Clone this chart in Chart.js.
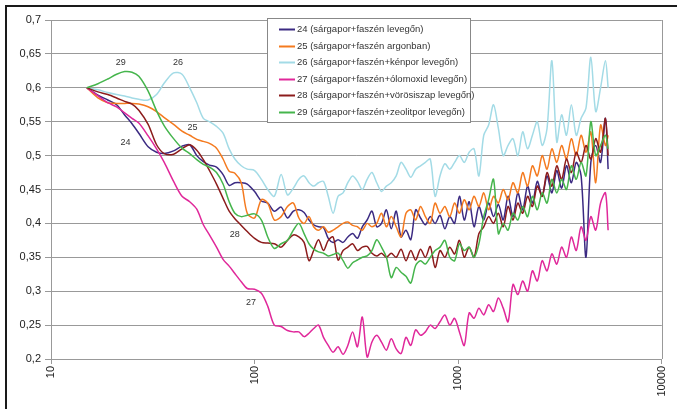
<!DOCTYPE html>
<html>
<head>
<meta charset="utf-8">
<script src="https://cdn.jsdelivr.net/npm/chart.js@4.4.1/dist/chart.umd.min.js"></script>
<style>
  html, body { margin: 0; padding: 0; background: #fff; }
  #chart { display: block; }
</style>
</head>
<body>
<canvas id="chart" width="677" height="409"></canvas>
<script>
// time (log x axis)
const times = [15, 17, 19, 21, 23, 25, 27, 30, 33, 36, 40, 44, 48, 52, 56, 60, 65, 70, 75, 80,
  86, 92, 100, 108, 116, 125, 135, 145, 155, 165, 175, 185, 195, 206, 218, 230, 243, 257, 272, 287,
  303, 320, 338, 357, 377, 398, 420, 444, 469, 496, 524, 554, 585, 618, 653, 690, 729, 770, 814, 860,
  909, 960, 1014, 1071, 1132, 1196, 1264, 1335, 1411, 1491, 1575, 1664, 1758, 1858, 1963, 2074, 2191, 2315, 2446, 2585,
  2731, 2885, 3049, 3221, 3403, 3596, 3800, 4015, 4242, 4482, 4736, 5004, 5287, 5450];

const s24 = [0.6, 0.589, 0.582, 0.575, 0.56, 0.547, 0.533, 0.513, 0.505, 0.503, 0.507, 0.514, 0.516, 0.5, 0.491, 0.486, 0.483, 0.472, 0.456, 0.46,
  0.46, 0.458, 0.447, 0.433, 0.43, 0.418, 0.424, 0.408, 0.418, 0.42, 0.416, 0.405, 0.398, 0.395, 0.394, 0.378, 0.372, 0.376, 0.372, 0.38,
  0.385, 0.378, 0.395, 0.405, 0.418, 0.395, 0.4, 0.42, 0.392, 0.418, 0.38, 0.39, 0.376, 0.42, 0.408, 0.398, 0.41, 0.4, 0.412, 0.392,
  0.41, 0.4, 0.44, 0.405, 0.432, 0.395, 0.425, 0.405, 0.43, 0.41, 0.428, 0.405, 0.44, 0.41, 0.445, 0.42, 0.455, 0.43, 0.462, 0.44,
  0.47, 0.445, 0.478, 0.452, 0.485, 0.46, 0.49, 0.47, 0.35, 0.49, 0.515, 0.49, 0.555, 0.48];

const s25 = [0.6, 0.585, 0.578, 0.577, 0.577, 0.577, 0.576, 0.572, 0.565, 0.556, 0.546, 0.536, 0.53, 0.524, 0.521, 0.518, 0.511, 0.495, 0.477, 0.474,
  0.46, 0.415, 0.408, 0.435, 0.43, 0.405, 0.41, 0.425, 0.43, 0.408, 0.4, 0.41, 0.395, 0.39, 0.395, 0.387, 0.39, 0.395, 0.4, 0.402,
  0.397, 0.395, 0.39, 0.4, 0.395, 0.4, 0.415, 0.395, 0.41, 0.395, 0.38, 0.415, 0.42, 0.405, 0.425, 0.41, 0.4, 0.43, 0.415, 0.425,
  0.41, 0.43, 0.415, 0.435, 0.42, 0.44, 0.425, 0.445, 0.42, 0.44, 0.43, 0.45, 0.435, 0.46, 0.445, 0.475, 0.455, 0.485, 0.47, 0.5,
  0.48, 0.51, 0.49, 0.515, 0.495, 0.525, 0.5, 0.53, 0.505, 0.535, 0.46, 0.545, 0.515, 0.53];

const s26 = [0.6, 0.597, 0.593, 0.59, 0.588, 0.585, 0.583, 0.582, 0.59, 0.607, 0.622, 0.62, 0.6, 0.578, 0.555, 0.55, 0.543, 0.533, 0.51, 0.495,
  0.485, 0.48, 0.478, 0.465, 0.45, 0.44, 0.472, 0.442, 0.452, 0.465, 0.47, 0.46, 0.455, 0.46, 0.462, 0.44, 0.415, 0.44, 0.445, 0.46,
  0.47, 0.462, 0.45, 0.465, 0.475, 0.46, 0.447, 0.455, 0.46, 0.47, 0.49, 0.48, 0.468, 0.48, 0.485, 0.49, 0.495, 0.44, 0.47, 0.488,
  0.48, 0.49, 0.5, 0.49, 0.505, 0.51, 0.47, 0.53, 0.545, 0.575, 0.54, 0.5, 0.515, 0.525, 0.5, 0.535, 0.51, 0.53, 0.55, 0.515,
  0.54, 0.64, 0.52, 0.56, 0.53, 0.575, 0.53, 0.555, 0.57, 0.645, 0.565, 0.6, 0.64, 0.6];

const s27 = [0.6, 0.588, 0.578, 0.572, 0.563, 0.555, 0.548, 0.529, 0.51, 0.49, 0.462, 0.44, 0.432, 0.421, 0.398, 0.383, 0.365, 0.347, 0.337, 0.326,
  0.314, 0.304, 0.303, 0.297, 0.278, 0.25, 0.248, 0.242, 0.24, 0.24, 0.233, 0.238, 0.245, 0.25, 0.232, 0.22, 0.21, 0.218, 0.207, 0.22,
  0.24, 0.218, 0.262, 0.203, 0.225, 0.235, 0.225, 0.213, 0.23, 0.215, 0.208, 0.232, 0.22, 0.243, 0.235, 0.24, 0.25, 0.245, 0.255, 0.265,
  0.25, 0.26, 0.24, 0.22, 0.268, 0.26, 0.275, 0.265, 0.28, 0.27, 0.29, 0.275, 0.255, 0.31, 0.295, 0.315, 0.3, 0.33, 0.315, 0.345,
  0.33, 0.355, 0.34, 0.365, 0.35, 0.38, 0.36, 0.395, 0.375, 0.41, 0.39, 0.43, 0.445, 0.39];

const s28 = [0.6, 0.594, 0.59, 0.585, 0.58, 0.576, 0.567, 0.546, 0.516, 0.503, 0.502, 0.51, 0.516, 0.508, 0.494, 0.478, 0.458, 0.437, 0.418, 0.407,
  0.397, 0.388, 0.378, 0.372, 0.371, 0.37, 0.365, 0.375, 0.383, 0.38, 0.372, 0.345, 0.36, 0.376, 0.36, 0.375, 0.38, 0.346, 0.36, 0.365,
  0.37, 0.36, 0.365, 0.366, 0.356, 0.352, 0.356, 0.35, 0.356, 0.35, 0.362, 0.345, 0.36, 0.346, 0.362, 0.35, 0.366, 0.335, 0.36, 0.35,
  0.365, 0.355, 0.375, 0.35, 0.365, 0.35, 0.385, 0.395, 0.41, 0.4, 0.415, 0.395, 0.425, 0.405, 0.43, 0.415, 0.44, 0.425, 0.455, 0.44,
  0.475, 0.455, 0.485, 0.465, 0.495, 0.475, 0.505, 0.49, 0.515, 0.495, 0.525, 0.505, 0.555, 0.5];

const s29 = [0.6, 0.606, 0.613, 0.62, 0.624, 0.623, 0.617, 0.595, 0.566, 0.544, 0.525, 0.511, 0.503, 0.494, 0.487, 0.483, 0.475, 0.458, 0.432, 0.415,
  0.41, 0.412, 0.414, 0.405, 0.38, 0.363, 0.37, 0.375, 0.39, 0.4, 0.385, 0.37, 0.362, 0.358, 0.356, 0.352, 0.354, 0.356, 0.345, 0.334,
  0.342, 0.346, 0.35, 0.352, 0.36, 0.376, 0.365, 0.35, 0.32, 0.335, 0.328, 0.322, 0.312, 0.338, 0.345, 0.34, 0.35, 0.36, 0.365, 0.375,
  0.35, 0.345, 0.37, 0.36, 0.365, 0.35, 0.37, 0.41, 0.435, 0.465, 0.385, 0.4, 0.39, 0.415, 0.405, 0.425, 0.41, 0.44, 0.42, 0.445,
  0.43, 0.465, 0.445, 0.465, 0.45, 0.485, 0.465, 0.49, 0.47, 0.55, 0.5, 0.515, 0.53, 0.51];

const seriesNames = [
  '24 (sárgapor+faszén levegőn)',
  '25 (sárgapor+faszén argonban)',
  '26 (sárgapor+faszén+kénpor levegőn)',
  '27 (sárgapor+faszén+ólomoxid levegőn)',
  '28 (sárgapor+faszén+vörösiszap levegőn)',
  '29 (sárgapor+faszén+zeolitpor levegőn)'
];
const seriesValues = [s24, s25, s26, s27, s28, s29];

// curve tags written inside the plot
const tagTexts = ['29', '26', '25', '24', '28', '27'];
const tagTimes = [22, 42, 49.5, 23.2, 80, 96];
const tagValues = [0.638, 0.638, 0.541, 0.519, 0.383, 0.284];

const xTickValues = [10, 100, 1000, 10000];
const yMin = 0.2, yMax = 0.7, yStep = 0.05;

const lineColors = ['#3b2a82', '#f47a1f', '#a3dbe6', '#e0289a', '#8c1c1c', '#45b54c'];
const FONT = '"Liberation Sans", Arial, sans-serif';

document.addEventListener('DOMContentLoaded', function() {
    drawChart();
});

function toPoints(values) {
    return values.map((v, i) => ({ x: times[i], y: v }));
}

// 1. frame, right border, tags, legend box
const decorPlugin = {
    id: 'decor',
    beforeDraw(chart) {
        const ctx = chart.ctx;
        ctx.save();
        ctx.fillStyle = '#fff';
        ctx.fillRect(0, 0, chart.width, chart.height);
        ctx.strokeStyle = '#1a1a1a';
        ctx.lineWidth = 2;
        ctx.beginPath();
        ctx.moveTo(6, chart.height);
        ctx.lineTo(6, 6);
        ctx.lineTo(chart.width, 6);
        ctx.stroke();
        ctx.restore();
    },
    afterDatasetsDraw(chart) {
        const ctx = chart.ctx;
        const a = chart.chartArea;
        const xs = chart.scales.x, ys = chart.scales.y;
        ctx.save();
        ctx.strokeStyle = '#999';
        ctx.lineWidth = 1;
        ctx.beginPath();
        ctx.moveTo(Math.round(a.right) + 0.5, a.top);
        ctx.lineTo(Math.round(a.right) + 0.5, a.bottom);
        ctx.stroke();

        ctx.fillStyle = '#333';
        ctx.font = '9px ' + FONT;
        ctx.textAlign = 'center';
        ctx.textBaseline = 'middle';
        tagTexts.forEach((t, i) => {
            ctx.fillText(t, xs.getPixelForValue(tagTimes[i]), ys.getPixelForValue(tagValues[i]));
        });
        ctx.restore();
    },
    afterDraw(chart) {
        const ctx = chart.ctx;
        ctx.save();
        ctx.fillStyle = '#fff';
        ctx.fillRect(267.5, 18.5, 203, 104);
        ctx.strokeStyle = '#888';
        ctx.lineWidth = 1;
        ctx.strokeRect(267.5, 18.5, 203, 104);
        ctx.font = '9.5px ' + FONT;
        ctx.textBaseline = 'middle';
        ctx.textAlign = 'left';
        chart.data.datasets.forEach((ds, i) => {
            const y = Math.round(29 + i * 16.6) + 0.5;
            ctx.strokeStyle = ds.borderColor;
            ctx.lineWidth = 2;
            ctx.beginPath();
            ctx.moveTo(279, y);
            ctx.lineTo(295, y);
            ctx.stroke();
            ctx.fillStyle = '#333';
            ctx.fillText(ds.label, 297, y);
        });
        ctx.restore();
    }
};

function drawChart() {
    const ctx = document.getElementById('chart').getContext('2d');

    const datasets = seriesValues.map((vals, i) => ({
        label: seriesNames[i],
        data: toPoints(vals),
        borderColor: lineColors[i],
        borderWidth: 1.5,
        pointRadius: 0,
        tension: 0.3,
        fill: false,
        order: seriesValues.length - i   // later series on top, like the original
    }));

    new Chart(ctx, {
        type: 'line',
        data: { datasets: datasets },
        options: {
            responsive: false,
            animation: false,
            devicePixelRatio: 1,
            layout: { padding: { left: 0, top: 20, right: 4, bottom: 0 } },
            plugins: {
                legend: { display: false },
                tooltip: { enabled: false }
            },
            scales: {
                x: {
                    type: 'logarithmic',
                    min: 10,
                    max: 10000,
                    afterBuildTicks(scale) {
                        scale.ticks = xTickValues.map(v => ({ value: v }));
                    },
                    afterFit(scale) { scale.height = 50; },
                    border: { color: '#999', width: 1 },
                    grid: { drawOnChartArea: false, drawTicks: true, tickLength: 5, color: '#999' },
                    ticks: {
                        autoSkip: false,
                        minRotation: 90,
                        maxRotation: 90,
                        padding: 2,
                        color: '#222',
                        font: { family: FONT, size: 11 },
                        callback: v => String(v)
                    }
                },
                y: {
                    min: yMin,
                    max: yMax,
                    afterFit(scale) { scale.width = 51; },
                    border: { color: '#999', width: 1 },
                    grid: { color: '#999', lineWidth: 1, drawTicks: true, tickLength: 6 },
                    ticks: {
                        stepSize: yStep,
                        padding: 4,
                        color: '#222',
                        font: { family: FONT, size: 11 },
                        callback: function(value) {
                            return String(Math.round(value * 100) / 100).replace('.', ',');
                        }
                    }
                }
            }
        },
        plugins: [decorPlugin]
    });
}
</script>
</body>
</html>
